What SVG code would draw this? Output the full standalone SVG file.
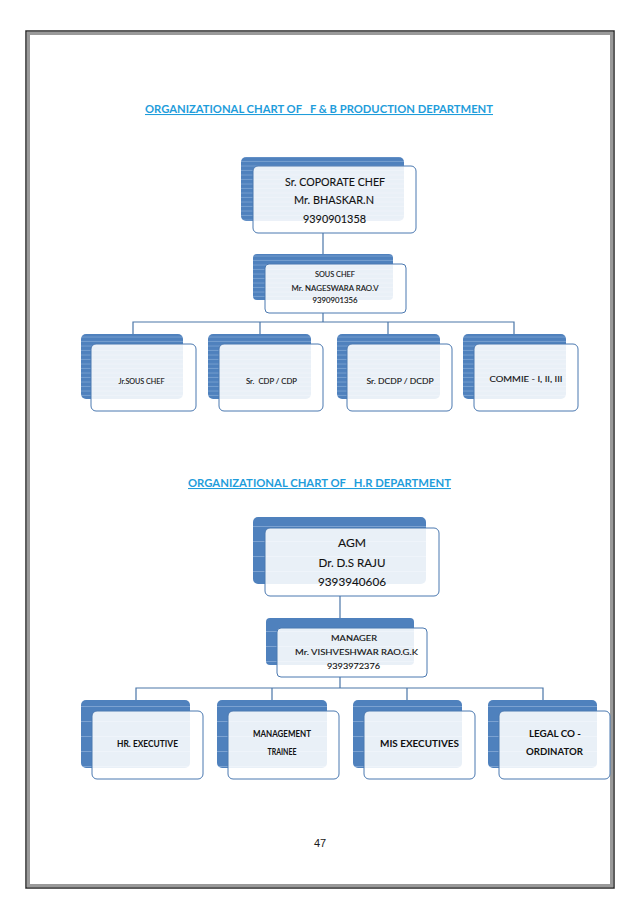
<svg xmlns="http://www.w3.org/2000/svg" width="638" height="903" viewBox="0 0 638 903">
<defs>
<pattern id="fine" patternUnits="userSpaceOnUse" width="8" height="4.5">
<rect width="8" height="4.5" fill="#4f81bd"/>
<line x1="0" y1="4" x2="8" y2="4" stroke="#8fb0da" stroke-width="0.6"/>
</pattern>
<pattern id="wide" patternUnits="userSpaceOnUse" width="8" height="15" y="2">
<rect width="8" height="15" fill="#4f81bd"/>
<line x1="0" y1="14.5" x2="8" y2="14.5" stroke="#8fb0da" stroke-width="0.7"/>
</pattern>
<style>
.bk1{fill:url(#fine);}
.bk2{fill:url(#wide);}
.fr{fill:#ffffff;fill-opacity:0.88;stroke:#4a78b0;stroke-width:1;}
.t{font-family:Lato,"Liberation Sans",sans-serif;fill:#111111;text-anchor:middle;stroke:#111111;stroke-width:0.12;}
.b{font-weight:bold;stroke-width:0;}
.ttl{font-family:Lato,"Liberation Sans",sans-serif;font-weight:bold;font-size:10.5px;fill:#1f9ddb;text-decoration:underline;white-space:pre;}
.cn{fill:none;stroke:#4a76a8;stroke-width:1.2;}
</style>
</defs>
<rect width="638" height="903" fill="#ffffff"/>
<g id="frame">
<rect x="26" y="31" width="588" height="857" fill="none" stroke="#2a2a2a" stroke-width="1.5"/>
<rect x="28.5" y="33.5" width="583" height="852" fill="none" stroke="#9a9a9a" stroke-width="3"/>
</g>
<text class="ttl" x="145" y="113" textLength="348" lengthAdjust="spacingAndGlyphs" xml:space="preserve">ORGANIZATIONAL CHART OF   F &amp; B PRODUCTION DEPARTMENT</text>
<text class="ttl" x="188" y="487" textLength="263" lengthAdjust="spacingAndGlyphs" xml:space="preserve">ORGANIZATIONAL CHART OF   H.R DEPARTMENT</text>
<g id="connectors">
<path class="cn" d="M323 233 V254"/>
<path class="cn" d="M323 313 V322 M133 334 V322 H514 V334 M260 322 V334 M388 322 V334"/>
<path class="cn" d="M340 596 V618"/>
<path class="cn" d="M340 677 V688 M136 700 V688 H543 V700 M272 688 V700 M407 688 V700"/>
</g>
<g id="n-corporate-chef">
<rect class="bk1" x="241" y="157" width="163" height="64" rx="5"/>
<rect class="fr" x="253" y="166" width="163" height="67" rx="5"/>
<text class="t" x="335" y="186" font-size="11" textLength="100" lengthAdjust="spacingAndGlyphs">Sr. COPORATE CHEF</text>
<text class="t" x="334" y="204" font-size="11" textLength="80" lengthAdjust="spacingAndGlyphs">Mr. BHASKAR.N</text>
<text class="t" x="334.5" y="223" font-size="11" textLength="63" lengthAdjust="spacingAndGlyphs">9390901358</text>
</g>
<g id="n-sous-chef">
<rect class="bk1" x="253" y="254" width="140" height="46" rx="4"/>
<rect class="fr" x="265" y="264" width="141" height="49" rx="4"/>
<text class="t" x="335" y="277" font-size="7.8" textLength="40" lengthAdjust="spacingAndGlyphs">SOUS CHEF</text>
<text class="t" x="335" y="291" font-size="7.8" textLength="87" lengthAdjust="spacingAndGlyphs">Mr. NAGESWARA RAO.V</text>
<text class="t" x="335" y="303" font-size="7.8" textLength="45" lengthAdjust="spacingAndGlyphs">9390901356</text>
</g>
<g id="n-jr-sous-chef">
<rect class="bk1" x="81" y="334" width="102" height="65" rx="5"/>
<rect class="fr" x="91" y="344" width="105" height="67" rx="5"/>
<text class="t" x="141.5" y="384" font-size="7.8" textLength="46" lengthAdjust="spacingAndGlyphs">Jr.SOUS CHEF</text>
</g>
<g id="n-sr-cdp">
<rect class="bk1" x="208" y="334" width="103" height="65" rx="5"/>
<rect class="fr" x="219" y="344" width="104" height="67" rx="5"/>
<text class="t" x="271.5" y="384" font-size="7.8" textLength="51" lengthAdjust="spacingAndGlyphs" xml:space="preserve">Sr.  CDP / CDP</text>
</g>
<g id="n-sr-dcdp">
<rect class="bk1" x="337" y="334" width="103" height="65" rx="5"/>
<rect class="fr" x="347" y="344" width="105" height="67" rx="5"/>
<text class="t" x="400" y="384" font-size="8.3" textLength="67" lengthAdjust="spacingAndGlyphs">Sr. DCDP / DCDP</text>
</g>
<g id="n-commie">
<rect class="bk1" x="463" y="334" width="103" height="65" rx="5"/>
<rect class="fr" x="474" y="344" width="104" height="67" rx="5"/>
<text class="t" x="526" y="382" font-size="8.3" textLength="73" lengthAdjust="spacingAndGlyphs">COMMIE - I, II, III</text>
</g>
<g id="n-agm">
<rect class="bk2" x="253" y="517" width="173" height="67" rx="5"/>
<rect class="fr" x="265" y="528" width="174" height="68" rx="5"/>
<text class="t" x="352" y="547" font-size="12.3" textLength="28" lengthAdjust="spacingAndGlyphs">AGM</text>
<text class="t" x="352" y="567" font-size="12.3" textLength="67" lengthAdjust="spacingAndGlyphs">Dr. D.S RAJU</text>
<text class="t" x="352" y="586" font-size="12.3" textLength="68" lengthAdjust="spacingAndGlyphs">9393940606</text>
</g>
<g id="n-manager">
<rect class="bk2" x="266" y="618" width="148" height="47" rx="4"/>
<rect class="fr" x="277" y="628" width="150" height="49" rx="4"/>
<text class="t" x="354" y="641" font-size="8.3" textLength="46" lengthAdjust="spacingAndGlyphs">MANAGER</text>
<text class="t" x="356.5" y="655" font-size="8.3" textLength="123" lengthAdjust="spacingAndGlyphs">Mr. VISHVESHWAR RAO.G.K</text>
<text class="t" x="353.5" y="669" font-size="8.3" textLength="53" lengthAdjust="spacingAndGlyphs">9393972376</text>
</g>
<g id="n-hr-executive">
<rect class="bk2" x="81" y="700" width="109" height="68" rx="5"/>
<rect class="fr" x="92" y="711" width="111" height="68" rx="5"/>
<text class="t b" x="147.5" y="747" font-size="8.5" textLength="61" lengthAdjust="spacingAndGlyphs">HR. EXECUTIVE</text>
</g>
<g id="n-management-trainee">
<rect class="bk2" x="217" y="700" width="110" height="68" rx="5"/>
<rect class="fr" x="228" y="711" width="111" height="68" rx="5"/>
<text class="t b" x="282" y="737" font-size="8.5" textLength="58" lengthAdjust="spacingAndGlyphs">MANAGEMENT</text>
<text class="t b" x="282" y="755" font-size="8.5" textLength="29" lengthAdjust="spacingAndGlyphs">TRAINEE</text>
</g>
<g id="n-mis-executives">
<rect class="bk2" x="353" y="700" width="109" height="68" rx="5"/>
<rect class="fr" x="364" y="711" width="111" height="68" rx="5"/>
<text class="t b" x="419.5" y="747" font-size="9" textLength="79" lengthAdjust="spacingAndGlyphs">MIS EXECUTIVES</text>
</g>
<g id="n-legal-coordinator">
<rect class="bk2" x="488" y="700" width="109" height="68" rx="5"/>
<rect class="fr" x="499" y="711" width="111" height="68" rx="5"/>
<text class="t b" x="555" y="737" font-size="9" textLength="52" lengthAdjust="spacingAndGlyphs">LEGAL CO -</text>
<text class="t b" x="554.5" y="755" font-size="9" textLength="57" lengthAdjust="spacingAndGlyphs">ORDINATOR</text>
</g>
<text x="320" y="847" font-family="'Liberation Sans Narrow','Liberation Sans',sans-serif" font-size="11" fill="#1a1a1a" text-anchor="middle">47</text>
</svg>
